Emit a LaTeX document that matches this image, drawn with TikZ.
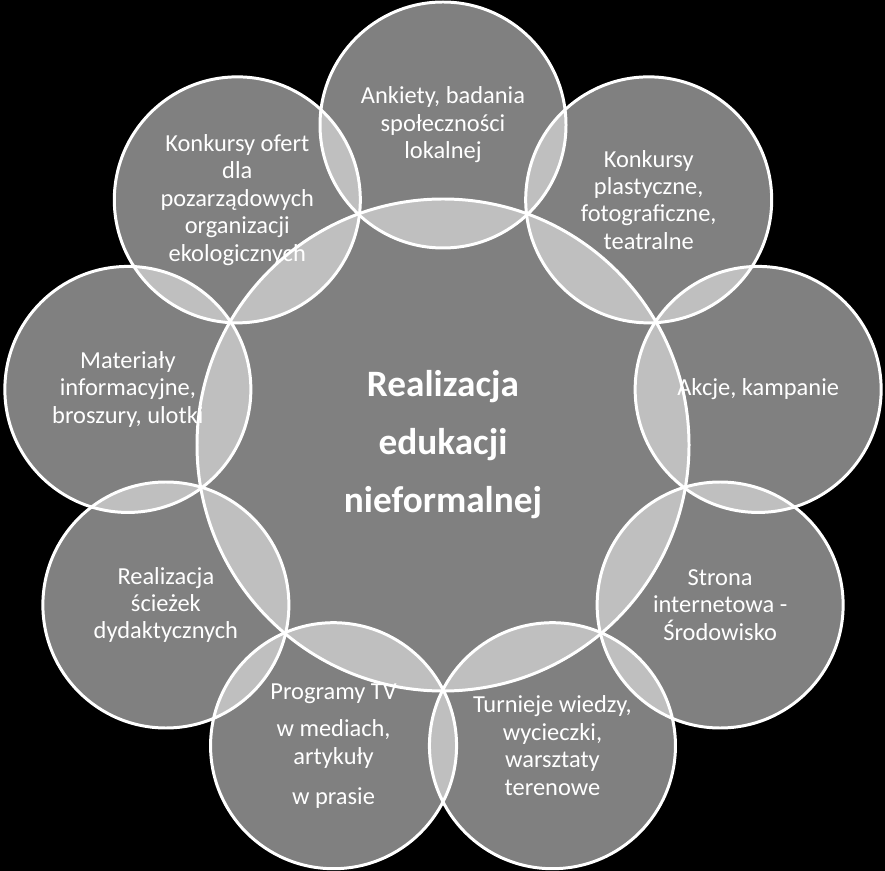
\documentclass[tikz,border=0pt]{standalone}
\usepackage{fontspec}
\setmainfont{Carlito}
\usetikzlibrary{calc}

\begin{document}
\begin{tikzpicture}[
  font=\fontsize{13.9}{15.6}\selectfont,
  ring/.style={circle, draw=white, line width=1.7pt, fill=white, fill opacity=0.5, text opacity=1, text=white, inner sep=0pt, align=center},
  hub/.style={ring, minimum size=98.4mm, font=\fontsize{21.2}{33}\selectfont\bfseries},
  petal/.style={ring, minimum size=49.2mm}
]

% Background and bounding box
\fill[black] (0,0) rectangle (17.7,-17.42);
\useasboundingbox (0,0) rectangle (17.7,-17.42);

% Central circle
\node[hub] (centre) at (8.86,-8.9) {Realizacja\\edukacji\\nieformalnej};

% Outer ring (every 40 degrees, starting at the top)
\node[petal] (ankiety) at ($(centre)+(90:6.4)$) {Ankiety, badania\\społeczności\\lokalnej};
\node[petal] (plastyczne) at ($(centre)+(50:6.4)$) {Konkursy\\plastyczne,\\fotograficzne,\\teatralne};
\node[petal] (akcje) at ($(centre)+(10:6.4)$) {Akcje, kampanie};
\node[petal] (strona) at ($(centre)+(-30:6.4)$) {Strona\\internetowa -\\Środowisko};
\node[petal] (turnieje) at ($(centre)+(-70:6.4)$) {Turnieje wiedzy,\\wycieczki,\\warsztaty\\terenowe};
\node[petal] (programy) at ($(centre)+(-110:6.4)$) {Programy TV\\[6pt]w mediach,\\artykuły\\[7pt]w prasie};
\node[petal] (sciezki) at ($(centre)+(-150:6.4)$) {Realizacja\\ścieżek\\dydaktycznych};
\node[petal] (materialy) at ($(centre)+(170:6.4)$) {Materiały\\informacyjne,\\broszury, ulotki};
\node[petal] (oferty) at ($(centre)+(130:6.4)$) {Konkursy ofert\\dla\\pozarządowych\\organizacji\\ekologicznych};

\end{tikzpicture}
\end{document}
